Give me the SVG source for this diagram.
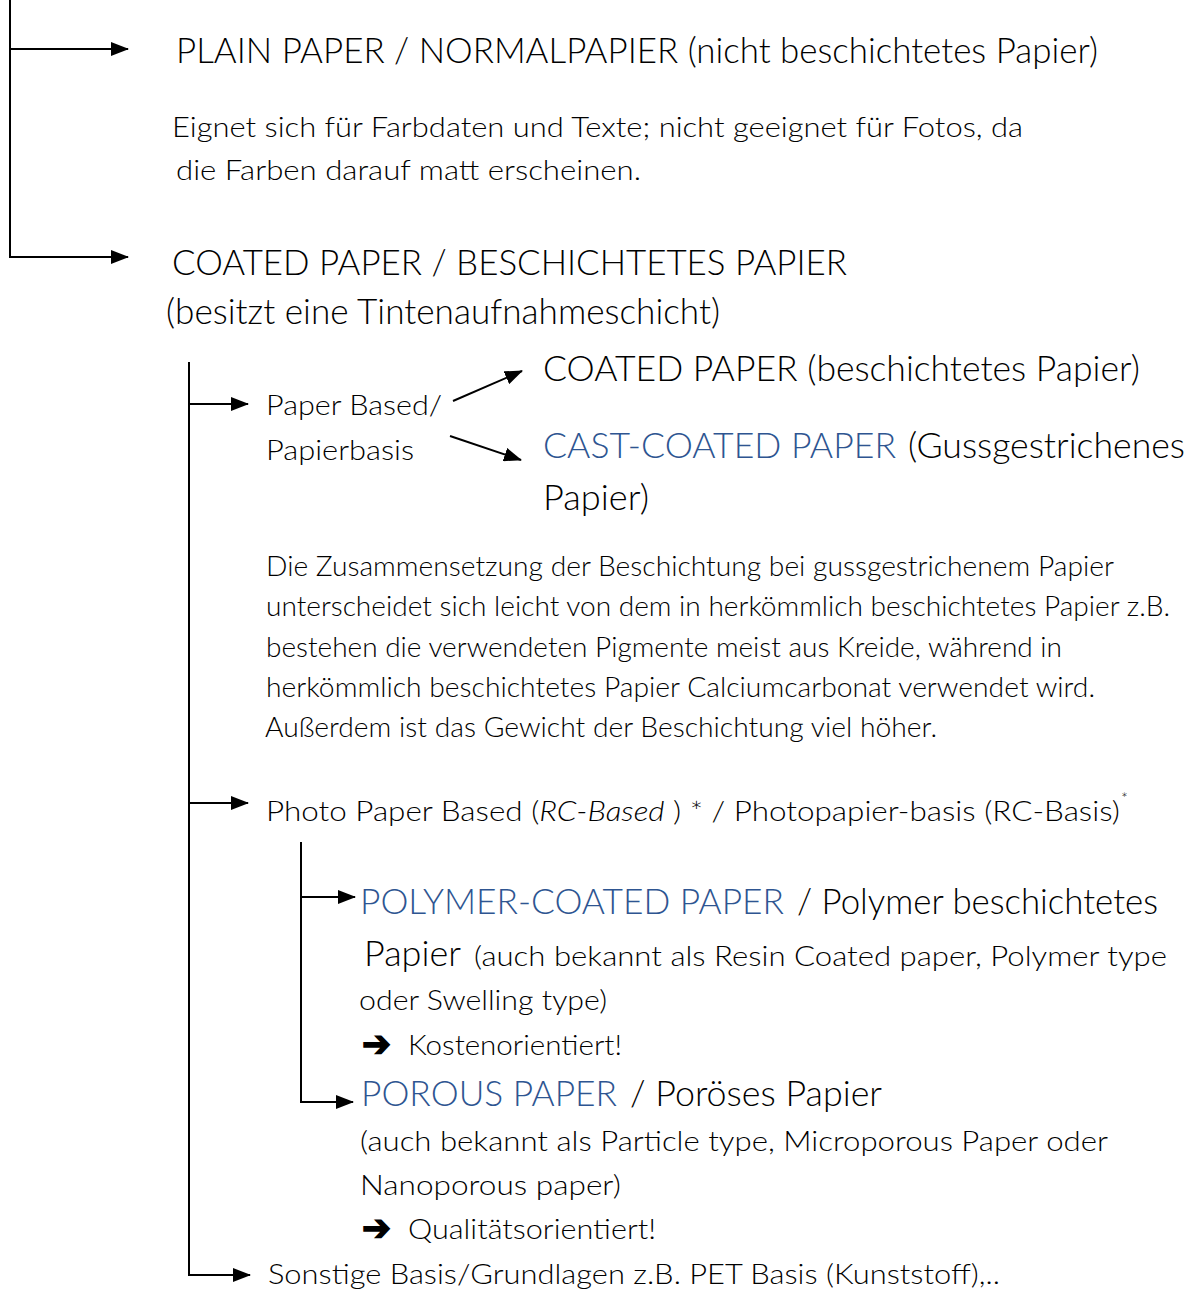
<svg xmlns="http://www.w3.org/2000/svg" width="1195" height="1291" viewBox="0 0 1195 1291">
<defs>
<marker id="ah" markerUnits="userSpaceOnUse" markerWidth="18" markerHeight="14" viewBox="0 0 18 14" refX="17" refY="7" orient="auto">
<path d="M0,0 L18,7 L0,14 Z" fill="#000"/>
</marker>
<style>
text{font-family:Lato,"Open Sans","Liberation Sans",sans-serif;fill:#000;font-weight:300;}
.h{font-size:35px;}
.b{font-size:27px;}
.blue{fill:#2E5591;}
.c{stroke:#000;stroke-width:2;fill:none;}
.a{marker-end:url(#ah);}
.sym{font-family:"DejaVu Sans",sans-serif;font-size:36px;font-weight:bold;fill:#000;stroke:#000;stroke-width:1.5;}
</style>
</defs>
<rect width="1195" height="1291" fill="#fff"/>

<g id="connectors">
<polyline class="c a" points="10,0 10,257 128,257"/>
<line class="c a" x1="10" y1="49" x2="128" y2="49"/>
<polyline class="c a" points="189,362 189,1275 250,1275"/>
<line class="c a" x1="189" y1="404" x2="248" y2="404"/>
<line class="c a" x1="189" y1="803" x2="248" y2="803"/>
<polyline class="c a" points="301,842 301,1102 353,1102"/>
<line class="c a" x1="301" y1="897" x2="355" y2="897"/>
<line class="c a" x1="453" y1="401" x2="522" y2="371"/>
<line class="c a" x1="450" y1="436" x2="521" y2="460"/>
</g>

<g id="plain">
<text class="h" x="176" y="63" textLength="922" lengthAdjust="spacingAndGlyphs">PLAIN PAPER / NORMALPAPIER (nicht beschichtetes Papier)</text>
<text class="b" x="172" y="137" textLength="851" lengthAdjust="spacingAndGlyphs">Eignet sich für Farbdaten und Texte; nicht geeignet für Fotos, da</text>
<text class="b" x="176" y="180" textLength="465" lengthAdjust="spacingAndGlyphs">die Farben darauf matt erscheinen.</text>
</g>

<g id="coated">
<text class="h" x="172" y="275" textLength="675" lengthAdjust="spacingAndGlyphs">COATED PAPER / BESCHICHTETES PAPIER</text>
<text class="h" x="166" y="324" textLength="554" lengthAdjust="spacingAndGlyphs">(besitzt eine Tintenaufnahmeschicht)</text>
</g>

<g id="paper-based">
<text class="b" x="266" y="415" textLength="176" lengthAdjust="spacingAndGlyphs">Paper Based/</text>
<text class="b" x="266" y="460" textLength="148" lengthAdjust="spacingAndGlyphs">Papierbasis</text>
</g>

<g id="coated-paper">
<text class="h" x="543" y="381" textLength="597" lengthAdjust="spacingAndGlyphs">COATED PAPER (beschichtetes Papier)</text>
</g>

<g id="cast-coated">
<text class="h blue" x="543" y="458" textLength="353" lengthAdjust="spacingAndGlyphs">CAST-COATED PAPER</text>
<text class="h" x="908" y="458" textLength="277" lengthAdjust="spacingAndGlyphs">(Gussgestrichenes</text>
<text class="h" x="543" y="510" textLength="106" lengthAdjust="spacingAndGlyphs">Papier)</text>
</g>

<g id="cast-desc">
<text class="b" x="266" y="576" textLength="848" lengthAdjust="spacingAndGlyphs">Die Zusammensetzung der Beschichtung bei gussgestrichenem Papier</text>
<text class="b" x="266" y="616" textLength="904" lengthAdjust="spacingAndGlyphs">unterscheidet sich leicht von dem in herkömmlich beschichtetes Papier z.B.</text>
<text class="b" x="266" y="657" textLength="796" lengthAdjust="spacingAndGlyphs">bestehen die verwendeten Pigmente meist aus Kreide, während in</text>
<text class="b" x="266" y="697" textLength="829" lengthAdjust="spacingAndGlyphs">herkömmlich beschichtetes Papier Calciumcarbonat verwendet wird.</text>
<text class="b" x="265" y="737" textLength="672" lengthAdjust="spacingAndGlyphs">Außerdem ist das Gewicht der Beschichtung viel höher.</text>
</g>

<g id="photo-based">
<text class="b" x="266" y="821" textLength="854" lengthAdjust="spacingAndGlyphs">Photo Paper Based (<tspan font-style="italic">RC-Based</tspan> ) * / Photopapier-basis (RC-Basis)</text>
<text x="1121" y="804" font-size="16">*</text>
</g>

<g id="polymer">
<text class="h blue" x="360" y="914" textLength="424" lengthAdjust="spacingAndGlyphs">POLYMER-COATED PAPER</text>
<text class="h" x="797" y="914" textLength="361" lengthAdjust="spacingAndGlyphs">/ Polymer beschichtetes</text>
<text class="h" x="364" y="966" textLength="97" lengthAdjust="spacingAndGlyphs">Papier</text>
<text class="b" x="474" y="966" textLength="693" lengthAdjust="spacingAndGlyphs">(auch bekannt als Resin Coated paper, Polymer type</text>
<text class="b" x="359" y="1010" textLength="248" lengthAdjust="spacingAndGlyphs">oder Swelling type)</text>
<text class="sym" x="362" y="1056" textLength="29" lengthAdjust="spacingAndGlyphs">➔</text>
<text class="b" x="408" y="1055" textLength="214" lengthAdjust="spacingAndGlyphs">Kostenorientiert!</text>
</g>

<g id="porous">
<text class="h blue" x="361" y="1106" textLength="256" lengthAdjust="spacingAndGlyphs">POROUS PAPER</text>
<text class="h" x="630" y="1106" textLength="252" lengthAdjust="spacingAndGlyphs">/ Poröses Papier</text>
<text class="b" x="360" y="1151" textLength="748" lengthAdjust="spacingAndGlyphs">(auch bekannt als Particle type, Microporous Paper oder</text>
<text class="b" x="360" y="1195" textLength="261" lengthAdjust="spacingAndGlyphs">Nanoporous paper)</text>
<text class="sym" x="362" y="1240" textLength="29" lengthAdjust="spacingAndGlyphs">➔</text>
<text class="b" x="408" y="1239" textLength="248" lengthAdjust="spacingAndGlyphs">Qualitätsorientiert!</text>
</g>

<g id="sonstige">
<text class="b" x="268" y="1284" textLength="732" lengthAdjust="spacingAndGlyphs">Sonstige Basis/Grundlagen z.B. PET Basis (Kunststoff),..</text>
</g>
</svg>
